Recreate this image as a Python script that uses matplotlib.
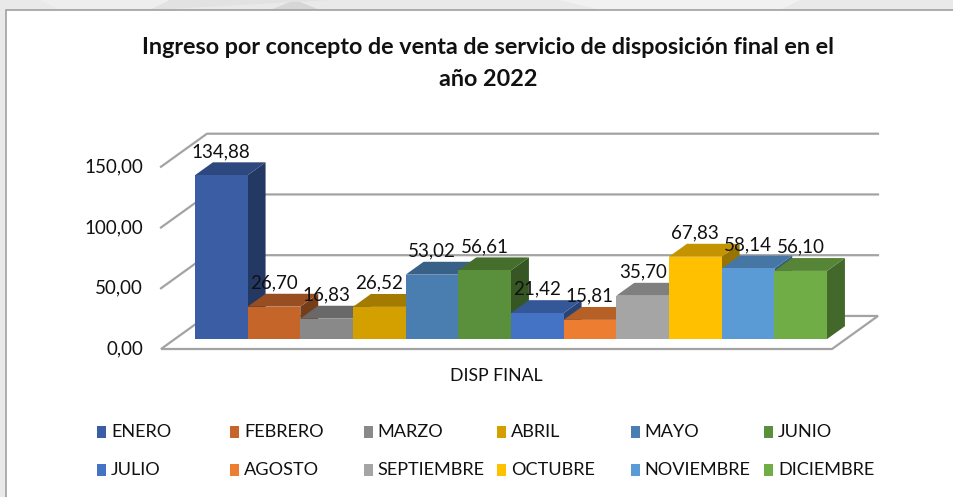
import matplotlib
matplotlib.use("Agg")
import matplotlib.pyplot as plt
from matplotlib.patches import Polygon, Rectangle
from matplotlib.colors import to_rgb

plt.rcParams['font.family'] = ['Lato', 'DejaVu Sans']

# data
meses = ['ENERO', 'FEBRERO', 'MARZO', 'ABRIL', 'MAYO', 'JUNIO',
         'JULIO', 'AGOSTO', 'SEPTIEMBRE', 'OCTUBRE', 'NOVIEMBRE', 'DICIEMBRE']
valores = [134.88, 26.70, 16.83, 26.52, 53.02, 56.61,
           21.42, 15.81, 35.70, 67.83, 58.14, 56.10]
colores = ['#3A5DA4', '#C5652A', '#898989', '#D4A000', '#4A7EB1', '#5A8F3B',
           '#4472C4', '#ED7D31', '#A5A5A5', '#FFC000', '#5B9BD5', '#70AD47']
ticks = [0, 50, 100, 150]
categoria = 'DISP FINAL'
titulo = ['Ingreso por concepto de venta de servicio de disposición final en el',
          'año 2022']

W, H = 954, 497
fig = plt.figure(figsize=(W / 100, H / 100), dpi=100)
fig.patch.set_facecolor('#e9e9e9')

# slide background decoration + white chart box
for pts, c in [([(40, 0), (170, 0), (150, 10), (60, 10)], '#eeeeee'),
               ([(270, 10), (295, 0), (320, 10)], '#d6d6d6'),
               ([(150, 10), (170, 0), (330, 0)], '#e2e2e2'),
               ([(560, 0), (800, 0), (780, 10), (600, 10)], '#f1f1f1')]:
    fig.add_artist(Polygon([(x / W, 1 - y / H) for x, y in pts], closed=True,
                           transform=fig.transFigure, fc=c, ec='none', zorder=-3))
fig.add_artist(Rectangle((6 / W, -0.05), 1, 1 - 10 / H + 0.05, transform=fig.transFigure,
                         fc='white', ec='#a0a0a0', lw=1.2, zorder=-2))

ax = fig.add_axes([0, 0, 1, 1])
bw, vu = 52.67, 1.215  # pixels per bar / per value unit
ax.set_xlim(-161 / bw, (W - 161) / bw)
ax.set_ylim((349 - H) / vu, 349 / vu)
ax.axis('off')

# oblique projection for the 3D look
DX, DY = 0.873, 27.2
def proj(x, y, z):
    return (x + z * DX, y + z * DY)

floor_w = 12.74
grid = '#a3a3a3'
ax.add_patch(Polygon([proj(0, 0, 0), proj(floor_w, 0, 0), proj(floor_w, 0, 1), proj(0, 0, 1)],
                     closed=True, fc='white', ec=grid, lw=1.6, zorder=1))
for t in ticks[1:]:
    xs, ys = zip(proj(0, t, 0), proj(0, t, 1), proj(floor_w, t, 1))
    ax.plot(xs, ys, color=grid, lw=1.6, zorder=1)
for t in ticks:
    ax.text(-0.342, t, f'{t:.2f}'.replace('.', ','), ha='right', va='center',
            fontsize=13.5, color='#111111')

def shade(c, f):
    r, g, b = to_rgb(c)
    return (r * f, g * f, b * f)

z0, z1 = 0.30, 0.69
x_start = 0.383
for i, (v, c) in enumerate(zip(valores, colores)):
    x0 = x_start + i
    x1 = x0 + 1
    side = [proj(x1, 0, z0), proj(x1, 0, z1), proj(x1, v, z1), proj(x1, v, z0)]
    top = [proj(x0, v, z0), proj(x1, v, z0), proj(x1, v, z1), proj(x0, v, z1)]
    front = [proj(x0, 0, z0), proj(x1, 0, z0), proj(x1, v, z0), proj(x0, v, z0)]
    ax.add_patch(Polygon(side, closed=True, fc=shade(c, 0.6), ec='none', zorder=2))
    ax.add_patch(Polygon(top, closed=True, fc=shade(c, 0.77), ec='none', zorder=2))
    ax.add_patch(Polygon(front, closed=True, fc=c, ec='none', zorder=2))
    lx, ly = proj(x0 + 0.5, v, z0)
    ax.text(lx, ly + 19.5, f'{v:.2f}'.replace('.', ','), ha='center', va='center',
            fontsize=13.5, color='#111111', zorder=3)

ax.text(floor_w / 2, -22.2, categoria, ha='center', va='center', fontsize=12.7, color='#111111')

fig.text(488 / W, 1 - 47 / H, titulo[0], ha='center', va='center', fontsize=16.8,
         fontweight='bold', color='#111111')
fig.text(488 / W, 1 - 80 / H, titulo[1], ha='center', va='center', fontsize=16.8,
         fontweight='bold', color='#111111')

# legend, Excel style grid of 6 columns
for i, (m, c) in enumerate(zip(meses, colores)):
    col, row = i % 6, i // 6
    mx = 97 + 133.4 * col
    my = 432 + 38 * row
    fig.add_artist(Rectangle((mx / W, 1 - (my + 6) / H), 9 / W, 12 / H,
                             transform=fig.transFigure, fc=c, ec='none'))
    fig.text((mx + 14) / W, 1 - my / H, m, ha='left', va='center', fontsize=13.1,
             color='#111111')

fig.savefig('out.png', dpi=100)
